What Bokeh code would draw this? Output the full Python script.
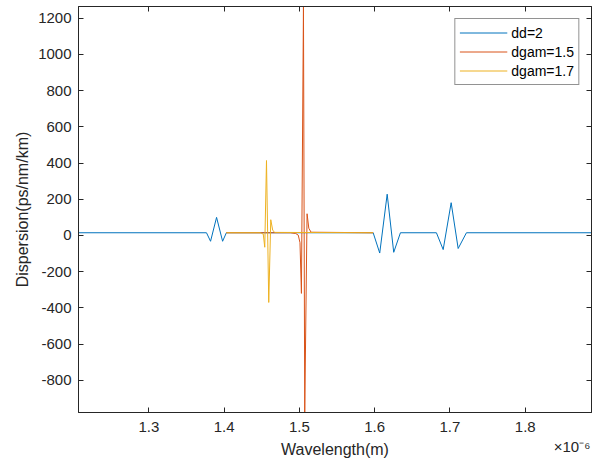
from bokeh.plotting import figure
from bokeh.models import Range1d, FixedTicker, LinearAxis, Legend, LegendItem
from bokeh.embed import file_html
from bokeh.resources import INLINE

# ---- data (wavelength in units of 1e-6 m, dispersion in ps/nm/km) ----
wl_dd2 = [1.2066, 1.3766, 1.382, 1.390, 1.398, 1.403, 1.598, 1.6067, 1.6166,
          1.6253, 1.6342, 1.682, 1.691, 1.7016, 1.7109, 1.7219, 1.888]
d_dd2 = [15, 15, -32, 100, -32, 15, 15, -97, 228, -93, 15, 15, -78, 181, -72, 15, 15]

wl_g15 = [1.403, 1.488, 1.4950, 1.4985, 1.5008, 1.5027, 1.5054, 1.5071,
          1.5102, 1.5125, 1.5155, 1.598]
d_g15 = [15, 15, 11, 2, -40, -320, 1265, -978, 120, 40, 18, 15]

wl_g17 = [1.403, 1.448, 1.452, 1.4540, 1.4563, 1.4593, 1.462, 1.4645, 1.467, 1.598]
d_g17 = [15, 15, 8, -65, 414, -370, 87, 30, 17, 15]

series_names = ["dd=2", "dgam=1.5", "dgam=1.7"]
x_ticks = [1.3, 1.4, 1.5, 1.6, 1.7, 1.8]
x_tick_labels = ["1.3", "1.4", "1.5", "1.6", "1.7", "1.8"]
x_exponent_label = "\n\u00d710\u207b\u2076"
y_ticks = [-800, -600, -400, -200, 0, 200, 400, 600, 800, 1000, 1200]
y_tick_labels = ["-800", "-600", "-400", "-200", "0", "200", "400", "600", "800", "1000", "1200"]

FONT = "Liberation Sans"
AX = "#262626"

all_x = wl_dd2 + wl_g15 + wl_g17
all_y = d_dd2 + d_g15 + d_g17
x_min, x_max = min(all_x), max(all_x)
y_min, y_max = min(all_y), max(all_y)

W, H = 592, 464
LEFT, TOP, RIGHT, BOTTOM = 78, 6, 1, 52
frame_w = W - LEFT - RIGHT

p = figure(width=W, height=H, output_backend="svg", toolbar_location=None,
           x_range=Range1d(x_min, x_max), y_range=Range1d(y_min, y_max),
           min_border_left=LEFT, min_border_right=RIGHT,
           min_border_top=TOP, min_border_bottom=BOTTOM,
           background_fill_color="white", border_fill_color="white")
p.outline_line_color = AX
p.outline_line_width = 1
p.xgrid.visible = False
p.ygrid.visible = False

r1 = p.line(wl_dd2, d_dd2, line_color="#0072BD", line_width=1)
r2 = p.line(wl_g15, d_g15, line_color="#D95319", line_width=1)
r3 = p.line(wl_g17, d_g17, line_color="#EDB120", line_width=1)

def style(ax, labels=True):
    ax.axis_line_color = AX
    ax.major_tick_line_color = AX
    ax.major_tick_in = 5
    ax.major_tick_out = 0
    ax.minor_tick_line_color = None
    ax.major_label_text_font = FONT
    ax.major_label_text_color = AX
    ax.axis_label_text_font = FONT
    ax.axis_label_text_color = AX
    ax.axis_label_text_font_style = "normal"
    ax.axis_label_text_font_size = "16px"
    if labels:
        ax.major_label_text_font_size = "15px"
    else:
        ax.major_label_text_font_size = "0px"
        ax.major_label_standoff = 0

# bottom axis: tick marks drawn as minor ticks, so that the exponent
# note (placed as an extra label near the right end) has no tick mark
x_exp_pos = x_max - (x_max - x_min) * 19.5 / frame_w
xax = p.xaxis[0]
style(xax)
xax.ticker = FixedTicker(ticks=x_ticks + [x_exp_pos], minor_ticks=x_ticks)
overrides = dict(zip(x_ticks, x_tick_labels))
overrides[x_exp_pos] = x_exponent_label
xax.major_label_overrides = overrides
xax.major_tick_in = 0
xax.minor_tick_in = 5
xax.minor_tick_out = 0
xax.minor_tick_line_color = AX
xax.axis_label = "Wavelength(m)"
xax.major_label_standoff = 5
xax.axis_label_standoff = -17

yax = p.yaxis[0]
style(yax)
yax.ticker = FixedTicker(ticks=y_ticks)
yax.major_label_overrides = dict(zip(y_ticks, y_tick_labels))
yax.axis_label = "Dispersion(ps/nm/km)"
yax.major_label_standoff = 7
yax.axis_label_standoff = 4

top = LinearAxis(ticker=FixedTicker(ticks=x_ticks))
style(top, labels=False)
top.major_label_overrides = {t: "" for t in x_ticks}
p.add_layout(top, "above")
right = LinearAxis(ticker=FixedTicker(ticks=y_ticks))
style(right, labels=False)
right.major_label_overrides = {t: "" for t in y_ticks}
p.add_layout(right, "right")

legend = Legend(items=[LegendItem(label=series_names[0], renderers=[r1]),
                       LegendItem(label=series_names[1], renderers=[r2]),
                       LegendItem(label=series_names[2], renderers=[r3])],
                location="top_right")
legend.margin = 12
legend.padding = 4
legend.spacing = 0
legend.glyph_width = 48
legend.glyph_height = 19
legend.label_height = 19
legend.label_standoff = 4
legend.label_text_font = FONT
legend.label_text_font_size = "14px"
legend.label_text_color = "black"
legend.border_line_color = AX
legend.border_line_width = 1
legend.background_fill_color = "white"
legend.background_fill_alpha = 1
p.add_layout(legend)

open("out.html", "w").write(file_html(p, INLINE))
